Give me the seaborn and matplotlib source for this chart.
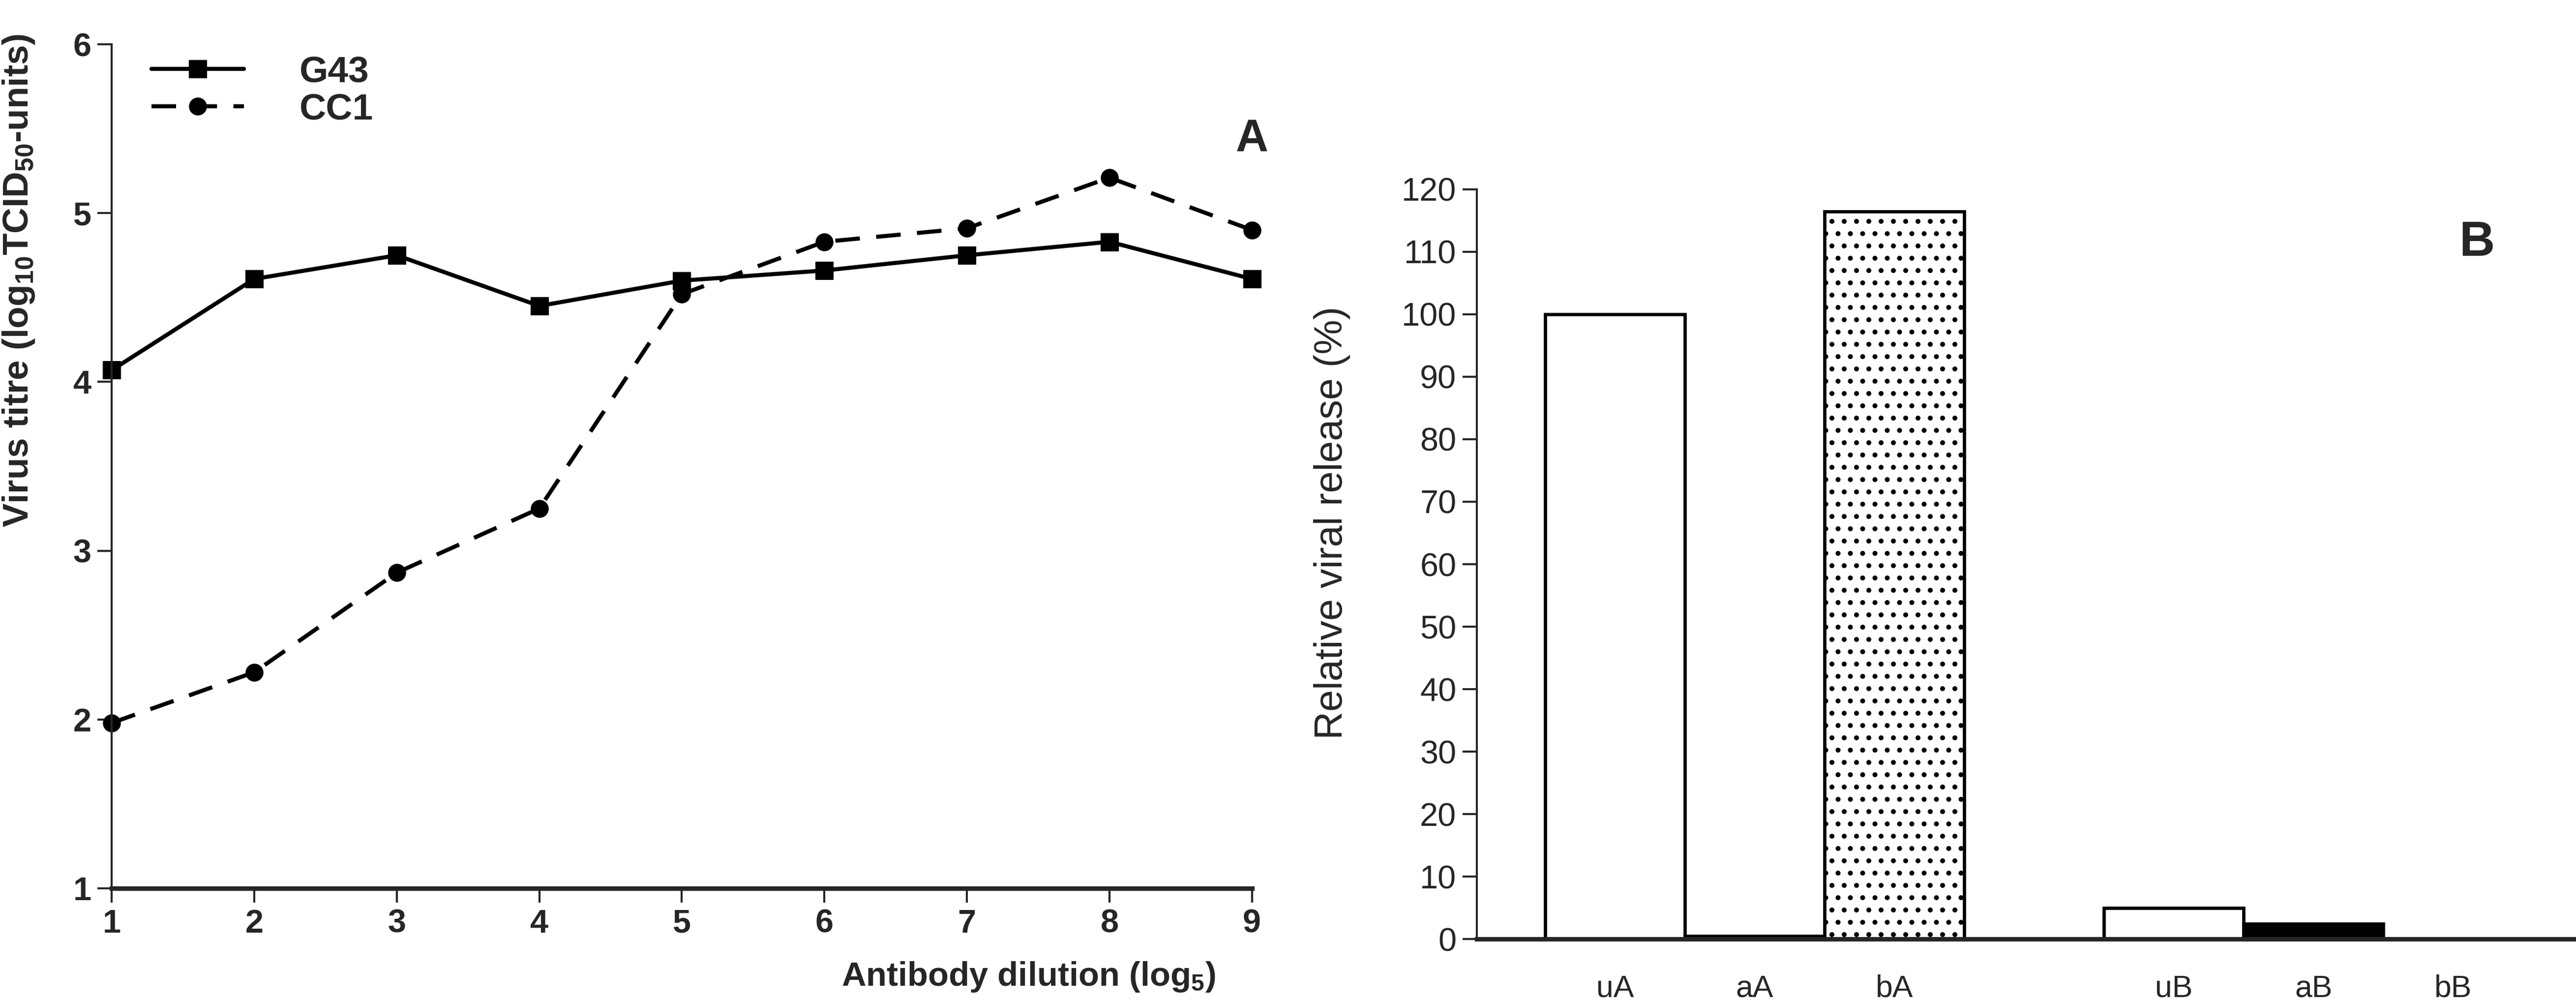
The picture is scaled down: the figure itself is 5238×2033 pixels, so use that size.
import matplotlib
matplotlib.use("Agg")
import matplotlib.pyplot as plt
import seaborn as sns
import pandas as pd

# panel A: virus titre vs antibody dilution
dilution = [1, 2, 3, 4, 5, 6, 7, 8, 9]
g43 = [4.07, 4.61, 4.75, 4.45, 4.60, 4.66, 4.75, 4.83, 4.61]
cc1 = [1.98, 2.28, 2.87, 3.25, 4.52, 4.83, 4.91, 5.21, 4.90]

# panel B: relative viral release
release_cats = ["uA", "aA", "bA", "uB", "aB", "bB"]
release_vals = [100.0, 0.5, 116.4, 5.0, 2.5, 0.0]
release_order = ["uA", "aA", "bA", " ", "uB", "aB", "bB"]  # blank slot between groups
bar_faces = ["white", "black", "white", "white", "black", "white"]
bar_hatch = ["", "", "..", "", "", ""]

sns.set_style("ticks")
plt.rcParams["font.family"] = ["Liberation Sans", "DejaVu Sans"]
plt.rcParams["mathtext.fontset"] = "custom"
plt.rcParams["mathtext.rm"] = "Liberation Sans:bold"
plt.rcParams["mathtext.it"] = "Liberation Sans:bold"
plt.rcParams["mathtext.default"] = "rm"
plt.rcParams["hatch.linewidth"] = 1.2

fig = plt.figure(figsize=(5238 / 300, 2033 / 300), dpi=300)
fig.patch.set_facecolor("white")

# ---------------- Panel A ----------------
axA = fig.add_axes([0.0434, 0.1117, 0.4426, 0.844])
sns.lineplot(x=dilution, y=g43, ax=axA, color="black", marker="s", markersize=8,
             linewidth=2.0, label="G43", clip_on=False, markeredgecolor="black")
sns.lineplot(x=dilution, y=cc1, ax=axA, color="black", marker="o", markersize=8,
             linewidth=2.0, label="CC1", clip_on=False, markeredgecolor="black")
axA.lines[1].set_dashes((6, 4))

axA.set_xlim(1, 9)
axA.set_ylim(1, 6)
axA.set_xticks(dilution)
axA.set_yticks([1, 2, 3, 4, 5, 6])
for lab in axA.get_xticklabels() + axA.get_yticklabels():
    lab.set_fontweight("bold")
    lab.set_fontsize(16)
axA.tick_params(direction="out", length=7, width=1.0, pad=3)
sns.despine(ax=axA)
axA.spines["left"].set_linewidth(1.0)
axA.spines["bottom"].set_linewidth(2.2)

axA.set_xlabel("Antibody dilution (log$_5$)", fontweight="bold", fontsize=16.5)
axA.xaxis.set_label_coords(0.804, -0.085)
axA.set_ylabel("Virus titre (log$_{10}$TCID$_{50}$-units)", fontweight="bold", fontsize=17.5)
axA.yaxis.set_label_coords(-0.066, 0.72)

leg = axA.legend(loc="upper left", bbox_to_anchor=(0.046, 0.978),
                 bbox_transform=fig.transFigure, frameon=False,
                 handlelength=2.5, handletextpad=1.5, labelspacing=0.1,
                 prop={"weight": "bold", "size": 18})
for ln in leg.get_lines():
    ln.set_linewidth(2.0)

axA.text(1.0, 0.887, "A", transform=axA.transAxes, ha="center", va="center",
         fontsize=22, fontweight="bold")

# ---------------- Panel B ----------------
axB = fig.add_axes([0.5733, 0.0608, 0.4267, 0.750])
df_b = pd.DataFrame({"sample": release_cats, "release": release_vals})
sns.barplot(data=df_b, x="sample", y="release", order=release_order, ax=axB,
            color="white", width=1.0, edgecolor="black", linewidth=1.6,
            errorbar=None, saturation=1)
for patch, face, hatch in zip(axB.patches, bar_faces, bar_hatch):
    patch.set_facecolor(face)
    patch.set_hatch(hatch)

axB.set_xlim(-0.99, 6.88)
axB.set_ylim(0, 120)
axB.set_yticks(range(0, 121, 10))
axB.tick_params(axis="y", direction="out", length=7, width=1.0, labelsize=16, pad=3)
axB.tick_params(axis="x", length=0, labelsize=15, pad=17)
axB.set_xticks([3], minor=True)
axB.tick_params(axis="x", which="minor", length=6, width=1.0)
sns.despine(ax=axB)
axB.spines["left"].set_linewidth(1.0)
axB.spines["bottom"].set_linewidth(2.2)
axB.set_xlabel("")
axB.set_ylabel("Relative viral release (%)", fontsize=19)
axB.yaxis.set_label_coords(-0.115, 0.555)

axB.text(0.91, 0.928, "B", transform=axB.transAxes, ha="center", va="center",
         fontsize=24, fontweight="bold")

fig.savefig("out.png", dpi=300, facecolor="white")
